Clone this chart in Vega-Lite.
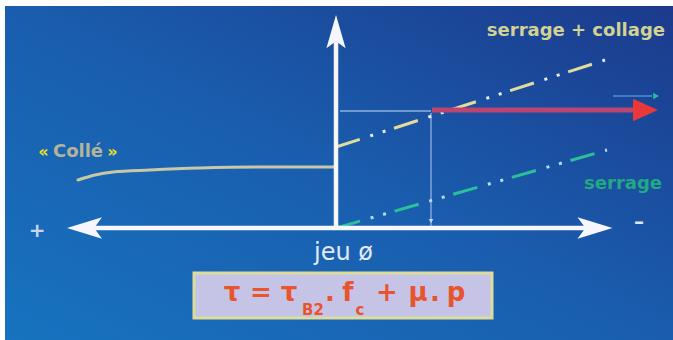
{
  "$schema": "https://vega.github.io/schema/vega-lite/v6.json",
  "width": 673,
  "height": 340,
  "autosize": {"type": "fit", "contains": "padding"},
  "padding": 0,
  "background": "#ffffff",
  "config": {"view": {"stroke": null}},
  "encoding": {
    "x": {"field": "x", "type": "quantitative", "scale": {"domain": [-336, 337], "nice": false, "zero": false}, "axis": null},
    "y": {"field": "y", "type": "quantitative", "scale": {"domain": [-112, 228], "nice": false, "zero": false}, "axis": null}
  },
  "layer": [
    {
      "data": {"values": [{"x": -331, "x2": 337, "y": -112, "y2": 222}]},
      "mark": {"type": "rect", "color": {"gradient": "linear", "x1": 0, "y1": 1, "x2": 1, "y2": 0, "stops": [{"offset": 0, "color": "#1773bf"}, {"offset": 0.5, "color": "#1a5dae"}, {"offset": 1, "color": "#1c3a8c"}]}},
      "encoding": {"x2": {"field": "x2"}, "y2": {"field": "y2"}}
    },
    {
      "data": {"values": [{"x": -142, "x2": 156, "y": -45, "y2": -90}]},
      "mark": {"type": "rect", "fill": "#c5c4e6", "stroke": "#dedc9a", "strokeWidth": 3},
      "encoding": {"x2": {"field": "x2"}, "y2": {"field": "y2"}}
    },
    {
      "data": {"values": [{"x": 4, "x2": 95, "y": 117, "y2": 117}, {"x": 95, "x2": 95, "y": 115, "y2": 2}]},
      "mark": {"type": "rule", "color": "#8fb0e0", "strokeWidth": 1.3},
      "encoding": {"x2": {"field": "x2"}, "y2": {"field": "y2"}}
    },
    {
      "data": {"values": [{"x": -258, "y": 48}, {"x": -241, "y": 53}, {"x": -223, "y": 56}, {"x": -186, "y": 58}, {"x": -136, "y": 60}, {"x": -76, "y": 61}, {"x": -2, "y": 61}]},
      "mark": {"type": "line", "interpolate": "monotone", "color": "#c8c8a4", "strokeWidth": 3, "strokeCap": "round"}
    },
    {
      "data": {"values": [{"x": 0, "y": 81}, {"x": 269, "y": 168}]},
      "mark": {"type": "line", "color": "#e2dc9c", "strokeWidth": 3, "strokeDash": [25, 36]}
    },
    {
      "data": {"values": [{"x": 0, "y": 81}, {"x": 269, "y": 168}]},
      "mark": {"type": "line", "color": "#e8eef8", "strokeWidth": 3, "strokeDash": [0, 36, 3, 10, 3, 9]}
    },
    {
      "data": {"values": [{"x": 0, "y": 0}, {"x": 271, "y": 78}]},
      "mark": {"type": "line", "color": "#2cc09a", "strokeWidth": 3, "strokeDash": [25, 36]}
    },
    {
      "data": {"values": [{"x": 0, "y": 0}, {"x": 271, "y": 78}]},
      "mark": {"type": "line", "color": "#b8dcef", "strokeWidth": 3, "strokeDash": [0, 36, 3, 10, 3, 9]}
    },
    {
      "data": {"values": [{"x": -245, "x2": 256, "y": 0, "y2": 0}, {"x": 0, "x2": 0, "y": -2, "y2": 190}]},
      "mark": {"type": "rule", "color": "#f5f7fc", "strokeWidth": 4.5},
      "encoding": {"x2": {"field": "x2"}, "y2": {"field": "y2"}}
    },
    {
      "data": {"values": [{"x": -251.5, "y": 0, "dir": "left"}, {"x": 259, "y": 0, "dir": "right"}, {"x": 0, "y": 195.5, "dir": "up"}]},
      "mark": {"type": "point", "filled": true, "opacity": 1, "size": 1225, "color": "#f5f7fc"},
      "encoding": {"shape": {"field": "dir", "type": "nominal", "legend": null, "scale": {"domain": ["left", "right", "up"], "range": ["M-1,0 L1,-0.62 L0.55,0 L1,0.62 Z", "M1,0 L-1,-0.62 L-0.55,0 L-1,0.62 Z", "M0,-1 L-0.55,0.9 L0,0.5 L0.55,0.9 Z"]}}}
    },
    {
      "data": {"values": [{"x": 96, "x2": 298, "y": 118, "y2": 118}]},
      "mark": {"type": "rule", "color": "#bb4470", "strokeWidth": 5},
      "encoding": {"x2": {"field": "x2"}, "y2": {"field": "y2"}}
    },
    {
      "data": {"values": [{"x": 309.5, "y": 118}]},
      "mark": {"type": "point", "filled": true, "opacity": 1, "size": 625, "color": "#e8383a", "shape": "M1,0 L-1,-0.9 L-1,0.9 Z"}
    },
    {
      "data": {"values": [{"x": 277, "x2": 316, "y": 132, "y2": 132}]},
      "mark": {"type": "rule", "color": "#4a90d8", "strokeWidth": 1.3},
      "encoding": {"x2": {"field": "x2"}, "y2": {"field": "y2"}}
    },
    {
      "data": {"values": [{"x": 320, "y": 132}]},
      "mark": {"type": "point", "filled": true, "opacity": 1, "size": 45, "color": "#20c0a0", "shape": "triangle-right"}
    },
    {
      "data": {"values": [{"x": 95, "y": 7}]},
      "mark": {"type": "point", "filled": true, "opacity": 1, "size": 20, "color": "#c8d8f0", "shape": "triangle-down"}
    },
    {
      "data": {"values": [{"x": 329, "y": 192, "t": "serrage + collage"}]},
      "mark": {"type": "text", "align": "right", "baseline": "alphabetic", "font": "DejaVu Sans", "fontWeight": "bold", "fontSize": 18, "color": "#d2d294"},
      "encoding": {"text": {"field": "t"}}
    },
    {
      "data": {"values": [{"x": 326, "y": 39, "t": "serrage"}]},
      "mark": {"type": "text", "align": "right", "baseline": "alphabetic", "font": "DejaVu Sans", "fontWeight": "bold", "fontSize": 18, "color": "#22a884"},
      "encoding": {"text": {"field": "t"}}
    },
    {
      "data": {"values": [{"x": -292.5, "y": 71, "t": "«"}, {"x": -223.5, "y": 71, "t": "»"}]},
      "mark": {"type": "text", "align": "center", "baseline": "alphabetic", "font": "DejaVu Sans", "fontWeight": "bold", "fontSize": 16, "color": "#f2e418"},
      "encoding": {"text": {"field": "t"}}
    },
    {
      "data": {"values": [{"x": -258, "y": 71, "t": "Collé"}]},
      "mark": {"type": "text", "align": "center", "baseline": "alphabetic", "font": "DejaVu Sans", "fontWeight": "bold", "fontSize": 18, "color": "#b4b49a"},
      "encoding": {"text": {"field": "t"}}
    },
    {
      "data": {"values": [{"x": -299, "y": -9, "t": "+"}]},
      "mark": {"type": "text", "align": "center", "baseline": "alphabetic", "font": "DejaVu Sans", "fontWeight": "bold", "fontSize": 20, "color": "#c8d4ec"},
      "encoding": {"text": {"field": "t"}}
    },
    {
      "data": {"values": [{"x": 303, "y": 0, "t": "–"}]},
      "mark": {"type": "text", "align": "center", "baseline": "alphabetic", "font": "DejaVu Sans", "fontWeight": "bold", "fontSize": 20, "color": "#e0e8f6"},
      "encoding": {"text": {"field": "t"}}
    },
    {
      "data": {"values": [{"x": 7.5, "y": -32, "t": "jeu ø"}]},
      "mark": {"type": "text", "align": "center", "baseline": "alphabetic", "font": "DejaVu Sans", "fontSize": 24, "color": "#e2eaf8"},
      "encoding": {"text": {"field": "t"}}
    },
    {
      "data": {"values": [{"x": -104, "y": -73, "t": "τ"}, {"x": -75, "y": -73, "t": "="}, {"x": -47, "y": -73, "t": "τ"}, {"x": -6, "y": -73, "t": "."}, {"x": 12, "y": -73, "t": "f"}, {"x": 51, "y": -73, "t": "+"}, {"x": 82, "y": -73, "t": "μ"}, {"x": 99, "y": -73, "t": "."}, {"x": 120, "y": -73, "t": "p"}]},
      "mark": {"type": "text", "align": "center", "baseline": "alphabetic", "font": "DejaVu Sans", "fontWeight": "bold", "fontSize": 26, "color": "#e8542e"},
      "encoding": {"text": {"field": "t"}}
    },
    {
      "data": {"values": [{"x": -23, "y": -87, "t": "B2"}, {"x": 24, "y": -87, "t": "c"}]},
      "mark": {"type": "text", "align": "center", "baseline": "alphabetic", "font": "DejaVu Sans", "fontWeight": "bold", "fontSize": 15, "color": "#e8542e"},
      "encoding": {"text": {"field": "t"}}
    }
  ]
}
